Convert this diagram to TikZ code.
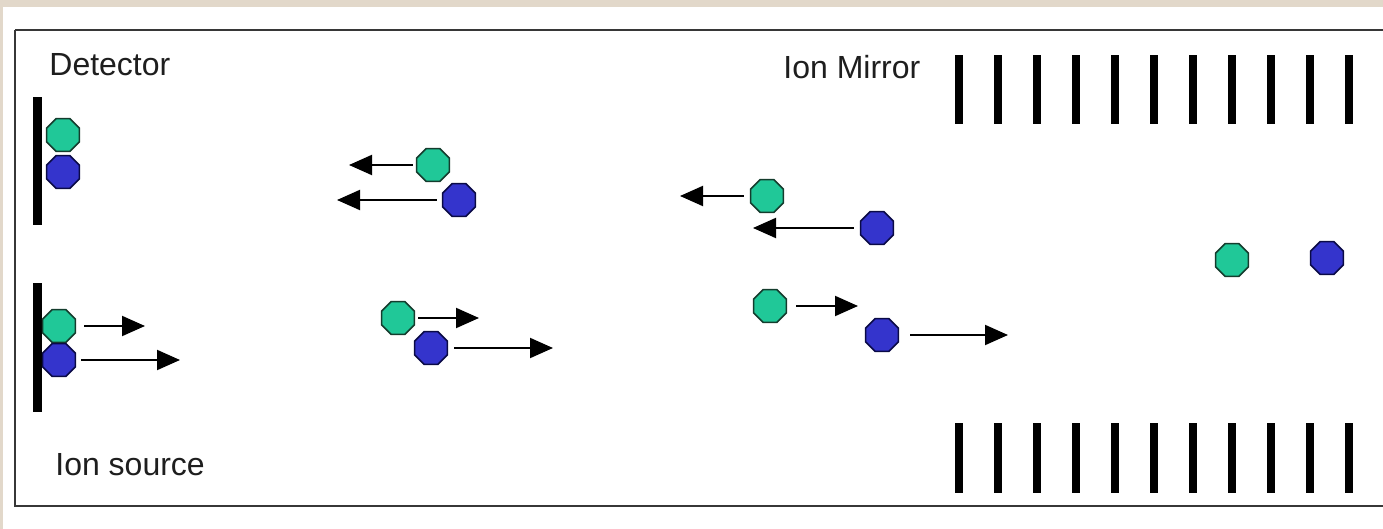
\documentclass[tikz,border=0pt]{standalone}
\usepackage{fontspec}
\setmainfont{Liberation Sans}
\usetikzlibrary{shapes.geometric,arrows.meta}
\definecolor{beige}{RGB}{226,216,202}
\definecolor{iongreen}{RGB}{32,200,152}
\definecolor{iongreenline}{RGB}{20,60,45}
\definecolor{ionblue}{RGB}{52,52,204}
\definecolor{ionblueline}{RGB}{10,10,70}
\definecolor{frame}{RGB}{55,55,55}
\definecolor{txt}{RGB}{30,30,30}
\tikzset{
  ion/.style={regular polygon, regular polygon sides=8, minimum size=17.8pt, inner sep=0pt, line width=0.75pt},
  gion/.style={ion, draw=iongreenline, fill=iongreen},
  bion/.style={ion, draw=ionblueline, fill=ionblue},
  arr/.style={line width=1pt, -{Triangle[length=11.5pt,width=10pt]}},
  plate/.style={fill=black, draw=none},
  lbl/.style={font=\fontsize{16pt}{18pt}\selectfont, text=txt, inner sep=0pt, anchor=base west}
}
\begin{document}
\begin{tikzpicture}[x=0.5pt,y=-0.5pt]
\useasboundingbox (0,0) rectangle (1383,529);
% background
\fill[beige] (0,0) rectangle (1383,529);
\fill[white] (3,7) rectangle (1383,529);
\draw[frame, line width=1.25pt] (15,30) -- (1390,30);
\draw[frame, line width=1.25pt] (15,30) -- (15,506) -- (1390,506);
% labels
\node[lbl] (tdet) at (49,76) {Detector};
\node[lbl] (tsrc) at (55,475) {Ion source};
\node[lbl] (tmir) at (783,79) {Ion Mirror};
% detector and source plates
\fill[plate] (33,97) rectangle (42,225);
\fill[plate] (33,283) rectangle (42,412);
% mirror plates
\foreach \i in {0,...,10}{
  \fill[plate] ({955+39*\i},55) rectangle ({963+39*\i},124);
  \fill[plate] ({955+39*\i},423) rectangle ({963+39*\i},493);
}
% ions
\node[gion] (gd) at (63,135) {};
\node[bion] (bd) at (63,172) {};
\node[gion] (gs) at (59,326) {};
\node[bion] (bs) at (59,360) {};
\node[gion] (g1t) at (433,165) {};
\node[bion] (b1t) at (459,200) {};
\node[gion] (g1b) at (398,318) {};
\node[bion] (b1b) at (431,348) {};
\node[gion] (g2t) at (767,196) {};
\node[bion] (b2t) at (877,228) {};
\node[gion] (g2b) at (770,306) {};
\node[bion] (b2b) at (882,335) {};
\node[gion] (gm) at (1232,260) {};
\node[bion] (bm) at (1327,258) {};
% arrow tips
\coordinate (tgs) at (145,326);
\coordinate (tbs) at (180,360);
\coordinate (tg1t) at (349,165);
\coordinate (tb1t) at (337,200);
\coordinate (tg1b) at (479,318);
\coordinate (tb1b) at (553,348);
\coordinate (tg2t) at (680,196);
\coordinate (tb2t) at (753,228);
\coordinate (tg2b) at (858,306);
\coordinate (tb2b) at (1008,335);
% arrows
\draw[arr, shorten <=4pt] (gs.east) -- (tgs);
\draw[arr, shorten <=2.5pt] (bs.east) -- (tbs);
\draw[arr, shorten <=1.5pt] (g1t.west) -- (tg1t);
\draw[arr, shorten <=2.5pt] (b1t.west) -- (tb1t);
\draw[arr, shorten <=1.5pt] (g1b.east) -- (tg1b);
\draw[arr, shorten <=3pt] (b1b.east) -- (tb1b);
\draw[arr, shorten <=3pt] (g2t.west) -- (tg2t);
\draw[arr, shorten <=3pt] (b2t.west) -- (tb2t);
\draw[arr, shorten <=4.5pt] (g2b.east) -- (tg2b);
\draw[arr, shorten <=5.5pt] (b2b.east) -- (tb2b);
\end{tikzpicture}
\end{document}
